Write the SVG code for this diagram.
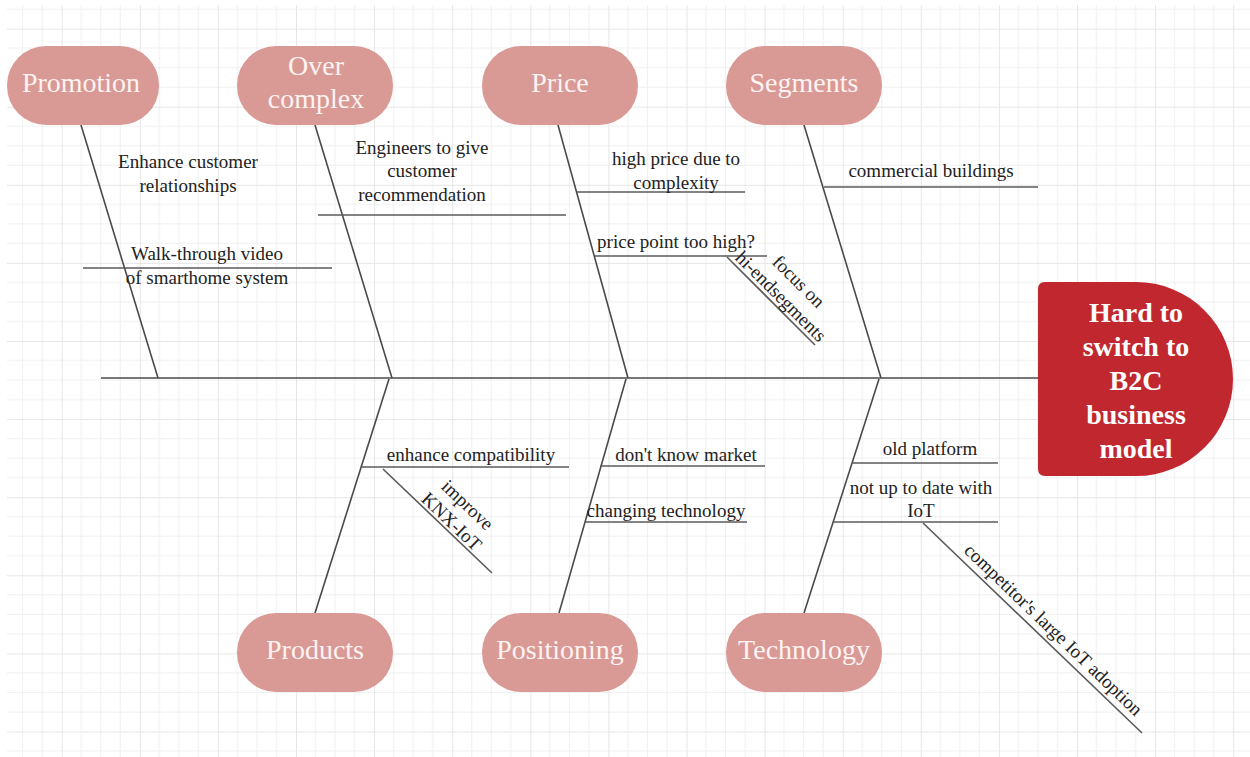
<svg xmlns="http://www.w3.org/2000/svg" width="1250" height="757" viewBox="0 0 1250 757">
  <style>
    .cat { fill: #d99a96; }
    .cat-t { font-family: "Liberation Serif", "Times New Roman", serif; font-size: 28px; fill: #fdf3f2; text-anchor: middle; }
    .head-t { font-family: "Liberation Serif", "Times New Roman", serif; font-size: 28px; font-weight: bold; fill: #ffffff; text-anchor: middle; }
    .lbl { font-family: "Liberation Serif", "Times New Roman", serif; font-size: 19px; fill: #222222; text-anchor: middle; }
    .bone { stroke: #4a4a4a; stroke-width: 1.6; fill: none; }
    .sub { stroke: #5a5a5a; stroke-width: 1.6; fill: none; }
  </style>
  <defs>
    <pattern id="grid" patternUnits="userSpaceOnUse" x="-16.4" y="-49.5" width="78.1" height="78.1">
      <path d="M19.525 0 V78.1 M39.05 0 V78.1 M58.575 0 V78.1 M0 19.525 H78.1 M0 39.05 H78.1 M0 58.575 H78.1" stroke="#f0f0f0" stroke-width="1" fill="none"/>
      <path d="M0.5 0 V78.1 M0 0.5 H78.1" stroke="#e6e6e6" stroke-width="1" fill="none"/>
    </pattern>
  </defs>
  <rect x="0" y="0" width="1250" height="757" fill="#ffffff"/>
  <rect x="7" y="5" width="1243" height="752" fill="url(#grid)"/>

  <g id="connectors">
    <line class="bone" x1="101" y1="378" x2="1038" y2="378"/>
    <line class="bone" x1="81" y1="125" x2="158" y2="378"/>
    <line class="bone" x1="315" y1="125" x2="392" y2="378"/>
    <line class="bone" x1="558" y1="125" x2="628" y2="378"/>
    <line class="bone" x1="804" y1="125" x2="881" y2="378"/>
    <line class="bone" x1="389" y1="379" x2="315" y2="613"/>
    <line class="bone" x1="626" y1="379" x2="559" y2="613"/>
    <line class="bone" x1="879" y1="379" x2="804" y2="613"/>
    <line class="sub" x1="83" y1="268" x2="332" y2="268"/>
    <line class="sub" x1="318" y1="215" x2="566" y2="215"/>
    <line class="sub" x1="577" y1="192" x2="745" y2="192"/>
    <line class="sub" x1="595" y1="256" x2="767" y2="256"/>
    <line class="sub" x1="727" y1="257" x2="815" y2="345"/>
    <line class="sub" x1="824" y1="187" x2="1038" y2="187"/>
    <line class="sub" x1="362" y1="467" x2="569" y2="467"/>
    <line class="sub" x1="383" y1="469" x2="492" y2="573"/>
    <line class="sub" x1="600" y1="466" x2="765" y2="466"/>
    <line class="sub" x1="585" y1="522" x2="747" y2="522"/>
    <line class="sub" x1="852" y1="463" x2="998" y2="463"/>
    <line class="sub" x1="833" y1="522" x2="998" y2="522"/>
    <line class="sub" x1="923" y1="523" x2="1142" y2="733"/>
  </g>

  <g id="labels">
    <text class="lbl" x="188" y="168">Enhance customer</text>
    <text class="lbl" x="188" y="192">relationships</text>
    <text class="lbl" x="207" y="260">Walk-through video</text>
    <text class="lbl" x="207" y="284">of smarthome system</text>
    <text class="lbl" x="422" y="154">Engineers to give</text>
    <text class="lbl" x="422" y="177">customer</text>
    <text class="lbl" x="422" y="201">recommendation</text>
    <text class="lbl" x="676" y="165">high price due to</text>
    <text class="lbl" x="676" y="189">complexity</text>
    <text class="lbl" x="676" y="248">price point too high?</text>
    <g transform="translate(727,257) rotate(45)">
      <text class="lbl" x="68" y="-27">focus on</text>
      <text class="lbl" x="66" y="-4">hi-endsegments</text>
    </g>
    <text class="lbl" x="931" y="177">commercial buildings</text>
    <text class="lbl" x="471" y="461">enhance compatibility</text>
    <g transform="translate(383,469) rotate(43.6)">
      <text class="lbl" x="86" y="-26">improve</text>
      <text class="lbl" x="86" y="-3">KNX-IoT</text>
    </g>
    <text class="lbl" x="686" y="461">don't know market</text>
    <text class="lbl" x="666" y="517">changing technology</text>
    <text class="lbl" x="930" y="455">old platform</text>
    <text class="lbl" x="921" y="494">not up to date with</text>
    <text class="lbl" x="921" y="517">IoT</text>
    <g transform="translate(923,523) rotate(43.8)">
      <text class="lbl" x="168" y="-7">competitor's large IoT adoption</text>
    </g>
  </g>

  <g id="node-promotion">
    <rect class="cat" x="7" y="46" width="152" height="79" rx="39" ry="39"/>
    <text class="cat-t" x="81" y="92">Promotion</text>
  </g>
  <g id="node-overcomplex">
    <rect class="cat" x="237" y="46" width="156" height="79" rx="39" ry="39"/>
    <text class="cat-t" x="316" y="75">Over</text>
    <text class="cat-t" x="316" y="108">complex</text>
  </g>
  <g id="node-price">
    <rect class="cat" x="482" y="46" width="156" height="79" rx="39" ry="39"/>
    <text class="cat-t" x="560" y="92">Price</text>
  </g>
  <g id="node-segments">
    <rect class="cat" x="726" y="46" width="156" height="79" rx="39" ry="39"/>
    <text class="cat-t" x="804" y="92">Segments</text>
  </g>
  <g id="node-products">
    <rect class="cat" x="237" y="613" width="156" height="79" rx="39" ry="39"/>
    <text class="cat-t" x="315" y="659">Products</text>
  </g>
  <g id="node-positioning">
    <rect class="cat" x="482" y="613" width="156" height="79" rx="39" ry="39"/>
    <text class="cat-t" x="560" y="659">Positioning</text>
  </g>
  <g id="node-technology">
    <rect class="cat" x="726" y="613" width="156" height="79" rx="39" ry="39"/>
    <text class="cat-t" x="804" y="659">Technology</text>
  </g>
  <g id="node-head">
    <path d="M1045,282 H1136 A97,97 0 0 1 1136,476 H1045 Q1038,476 1038,469 V289 Q1038,282 1045,282 Z" fill="#c1272f"/>
    <text class="head-t" x="1136" y="322">Hard to</text>
    <text class="head-t" x="1136" y="356">switch to</text>
    <text class="head-t" x="1136" y="390">B2C</text>
    <text class="head-t" x="1136" y="424">business</text>
    <text class="head-t" x="1136" y="458">model</text>
  </g>
</svg>
